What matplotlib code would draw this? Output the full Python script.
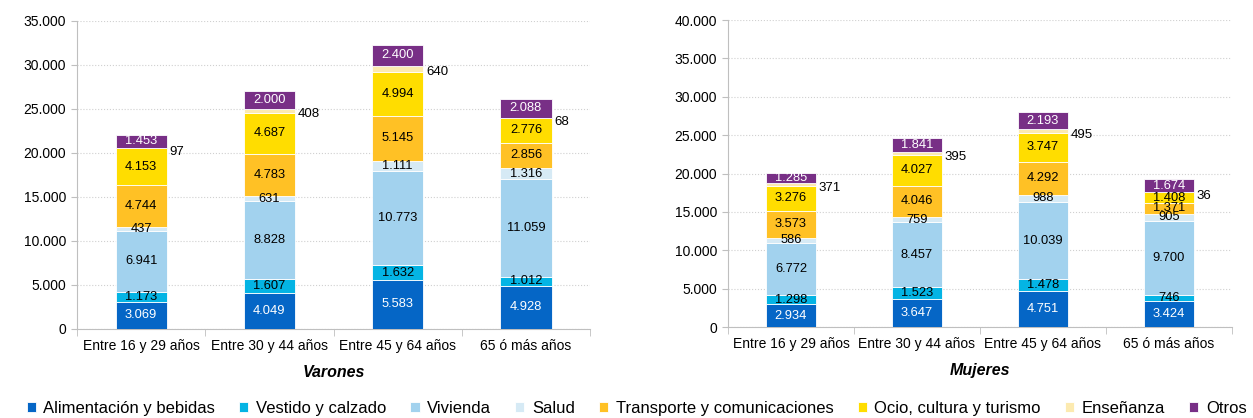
import numpy as np
import matplotlib.pyplot as plt

plt.rcParams['font.family'] = ['Liberation Sans', 'DejaVu Sans']

grupos = ["Entre 16 y 29 años", "Entre 30 y 44 años", "Entre 45 y 64 años", "65 ó más años"]
series = ["Alimentación y bebidas", "Vestido y calzado", "Vivienda", "Salud",
          "Transporte y comunicaciones", "Ocio, cultura y turismo", "Enseñanza", "Otros"]
colores = ["#0566C6", "#04B4E4", "#A2D2EE", "#D6EAF5", "#FFC125", "#FFDD00", "#FCEAB0", "#782F86"]

varones = {
    "Alimentación y bebidas": [3069, 4049, 5583, 4928],
    "Vestido y calzado": [1173, 1607, 1632, 1012],
    "Vivienda": [6941, 8828, 10773, 11059],
    "Salud": [437, 631, 1111, 1316],
    "Transporte y comunicaciones": [4744, 4783, 5145, 2856],
    "Ocio, cultura y turismo": [4153, 4687, 4994, 2776],
    "Enseñanza": [97, 408, 640, 68],
    "Otros": [1453, 2000, 2400, 2088],
}
mujeres = {
    "Alimentación y bebidas": [2934, 3647, 4751, 3424],
    "Vestido y calzado": [1298, 1523, 1478, 746],
    "Vivienda": [6772, 8457, 10039, 9700],
    "Salud": [586, 759, 988, 905],
    "Transporte y comunicaciones": [3573, 4046, 4292, 1371],
    "Ocio, cultura y turismo": [3276, 4027, 3747, 1408],
    "Enseñanza": [371, 395, 495, 36],
    "Otros": [1285, 1841, 2193, 1674],
}


def fmt(v):
    return f"{v:,.0f}".replace(",", ".")


def stacked(ax, data, ymax, titulo, width=0.4):
    x = np.arange(len(grupos))
    bottom = np.zeros(len(grupos))
    bars = []
    for s, c in zip(series, colores):
        vals = np.array(data[s], dtype=float)
        b = ax.bar(x, vals, width, bottom=bottom, color=c, edgecolor="white", linewidth=0.6, label=s, zorder=3)
        bars.append(b)
        for xi, v, bo in zip(x, vals, bottom):
            if s == "Enseñanza":
                # etiqueta fuera de la barra, a la derecha
                ax.text(xi + width / 2 + 0.02, bo + v / 2 - ymax * 0.012, fmt(v), ha="left", va="center",
                        fontsize=9.5, color="black", zorder=4)
            else:
                col = "white" if s in ("Alimentación y bebidas", "Otros") else "black"
                ax.text(xi, bo + v / 2, fmt(v), ha="center", va="center", fontsize=9.3, color=col, zorder=4)
        bottom += vals
    ax.set_xlim(-0.5, len(grupos) - 0.5)
    ax.set_ylim(0, ymax)
    yt = np.arange(0, ymax + 1, 5000)
    ax.set_yticks(yt)
    ax.set_yticklabels([fmt(v) for v in yt], fontsize=10)
    ax.set_xticks(x)
    ax.set_xticklabels(grupos, fontsize=10)
    ax.set_xticks(np.arange(-0.5, len(grupos), 1), minor=True)
    ax.tick_params(axis="x", which="major", length=0, pad=7)
    ax.tick_params(axis="x", which="minor", length=5, color="#BFBFBF")
    ax.tick_params(axis="y", length=4, color="#BFBFBF", pad=4)
    ax.grid(axis="y", color="#D0D0D0", linestyle=":", linewidth=0.8, zorder=0)
    for sp in ("top", "right"):
        ax.spines[sp].set_visible(False)
    for sp in ("left", "bottom"):
        ax.spines[sp].set_color("#BFBFBF")
    ax.set_xlabel(titulo, fontsize=11.5, fontweight="bold", fontstyle="italic", labelpad=9)
    return bars


fig = plt.figure(figsize=(12.53, 4.18), dpi=100)
ax1 = fig.add_axes([0.0615, 0.213, 0.4094, 0.737])
ax2 = fig.add_axes([0.581, 0.2177, 0.4022, 0.7343])

bars = stacked(ax1, varones, 35000, "Varones")
stacked(ax2, mujeres, 40000, "Mujeres")

fig.legend(bars, series, loc="center", bbox_to_anchor=(0.508, 0.023), ncol=8, frameon=False,
           fontsize=12, handlelength=0.55, handleheight=0.6, handletextpad=0.45, columnspacing=1.45,
           borderpad=0, borderaxespad=0)

fig.savefig("out.png", dpi=100)
